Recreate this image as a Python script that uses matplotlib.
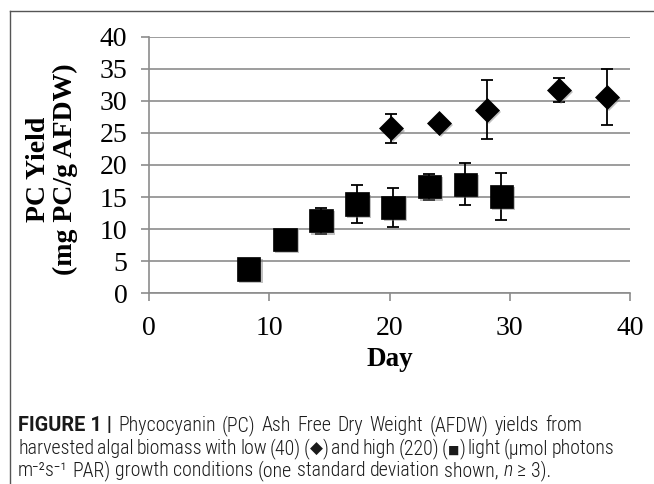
import re
import matplotlib
matplotlib.use('Agg')
import matplotlib.pyplot as plt
import matplotlib.patheffects as pe
from matplotlib.lines import Line2D
from matplotlib import font_manager

# ---- data ----
high_day = [8.3, 11.3, 14.3, 17.3, 20.3, 23.3, 26.3, 29.3]
high_yield = [3.8, 8.4, 11.3, 13.9, 13.4, 16.6, 17.0, 15.1]
high_sd = [0.0, 0.0, 2.0, 3.0, 3.0, 2.0, 3.3, 3.7]
low_day = [20.1, 24.1, 28.1, 34.1, 38.1]
low_yield = [25.7, 26.5, 28.6, 31.7, 30.6]
low_sd = [2.25, 0.0, 4.6, 1.9, 4.3]
x_ticks = [0, 10, 20, 30, 40]
y_ticks = [0, 5, 10, 15, 20, 25, 30, 35, 40]

W, H = 654, 484
SERIF = ['Liberation Serif', 'DejaVu Serif']
_names = {f.name for f in font_manager.fontManager.ttflist}
_cap_main = next((n for n in ['Roboto Condensed', 'Liberation Sans Narrow', 'Arial Narrow', 'Roboto']
                  if n in _names), 'DejaVu Sans')
CAP = [_cap_main, 'DejaVu Sans']
BOLD = ['Roboto', 'DejaVu Sans']
SYM = ['DejaVu Sans']
GRID = '#8c8c8c'

fig = plt.figure(figsize=(W / 100, H / 100), dpi=100)
ax = fig.add_axes([149 / W, 1 - 293.3 / H, (630 - 149) / W, (293.3 - 36.7) / H])

ax.set_xlim(0, 40)
ax.set_ylim(0, 40)
ax.set_xticks(x_ticks)
ax.set_yticks(y_ticks)
ax.set_axisbelow(True)
ax.yaxis.grid(True, color=GRID, lw=1.2)
for s in ['top', 'right']:
    ax.spines[s].set_visible(False)
for s in ['left', 'bottom']:
    ax.spines[s].set_color(GRID)
    ax.spines[s].set_linewidth(1.2)
ax.tick_params(axis='both', direction='out', length=5.5, width=1.2, color=GRID,
               labelsize=20, labelcolor='black')
ax.tick_params(axis='y', pad=10)
ax.tick_params(axis='x', pad=11)
for lab in ax.get_xticklabels() + ax.get_yticklabels():
    lab.set_family(SERIF)

shadow = [pe.SimplePatchShadow(offset=(1.5, -1.5), shadow_rgbFace='#777777', alpha=0.45), pe.Normal()]

ax.errorbar(high_day, high_yield, yerr=high_sd, fmt='none', ecolor='black',
            elinewidth=1.3, capsize=4, capthick=1.3, zorder=3)
ax.errorbar(low_day, low_yield, yerr=low_sd, fmt='none', ecolor='black',
            elinewidth=1.3, capsize=4, capthick=1.3, zorder=3)
ax.plot(high_day, high_yield, ls='none', marker='s', ms=16.8, mfc='black', mec='black',
        mew=0.5, zorder=4, path_effects=shadow)
ax.plot(low_day, low_yield, ls='none', marker='D', ms=12.2, mfc='black', mec='black',
        mew=0.5, zorder=4, path_effects=shadow)

# axis labels
fig.text(52 / W, 1 - 169 / H, 'PC Yield\n(mg PC/g AFDW)', rotation=90, ha='center',
         va='center', multialignment='center', fontsize=20, fontweight='bold',
         family=SERIF, linespacing=1.12)
fig.text(390 / W, 1 - 366 / H, 'Day', ha='center', va='baseline', fontsize=19.5,
         fontweight='bold', family=SERIF)

# frame
fig.add_artist(Line2D([9.5 / W, 9.5 / W], [0, 1 - 10.5 / H], transform=fig.transFigure,
                      color='#555555', lw=1.0))
fig.add_artist(Line2D([9.5 / W, 1], [1 - 10.5 / H, 1 - 10.5 / H], transform=fig.transFigure,
                      color='#555555', lw=1.0))

# caption
renderer = fig.canvas.get_renderer()


def _split(kw):
    k = dict(kw)
    fam = k.pop('family', CAP)
    scale = k.pop('scale', 1.0)
    k.pop('keep', None)
    return fam, scale, k


def piece_width(s, fs, kw):
    fam, scale, k = _split(kw)
    t1 = fig.text(0, 0, '|' + s + '|', fontsize=fs * scale, family=fam, **k)
    t2 = fig.text(0, 0, '||', fontsize=fs * scale, family=fam, **k)
    w = t1.get_window_extent(renderer).width - t2.get_window_extent(renderer).width
    t1.remove()
    t2.remove()
    return w


def draw_line(runs, x0, yb, fs, right=None):
    tokens = []
    for s, kw in runs:
        parts = [s] if kw.get('keep') else [p for p in re.split(r'( )', s) if p]
        for tok in parts:
            tokens.append((tok, kw, piece_width(tok, fs, kw)))
    natural = sum(w for _, _, w in tokens)
    nsp = sum(1 for t, _, _ in tokens if t == ' ')
    delta = (right - x0 - natural) / nsp if (right is not None and nsp) else 0.0
    x = x0
    for tok, kw, w in tokens:
        if tok == ' ':
            x += w + delta
            continue
        fam, scale, k = _split(kw)
        fig.text(x / W, 1 - yb / H, tok, fontsize=fs * scale, family=fam, va='baseline',
                 ha='left', color='#1a1a1a', **k)
        x += w


REG = dict(fontweight='light')
line1 = [('FIGURE 1 |', dict(fontweight='bold', family=BOLD, keep=True)),
         (' Phycocyanin (PC) Ash Free Dry Weight (AFDW) yields from', REG)]
line2 = [('harvested algal biomass with low (40) (', REG),
         ('\u25c6', dict(family=SYM, scale=0.85)),
         (') and high (220) (', REG),
         ('\u25a0', dict(family=SYM, scale=0.6)),
         (') light (\u00b5mol photons', REG)]
line3 = [('m\u207b\u00b2s\u207b\u00b9 PAR) growth conditions (one standard deviation shown, ', REG),
         ('n', dict(style='italic', fontweight='light')),
         (' \u2265 3).', REG)]

w10 = sum(piece_width(s, 10, kw) for s, kw in line2)
cap_fs = 10 * 620 / w10

x0 = 18
draw_line(line1, x0, 431, cap_fs, right=582)
draw_line(line2, x0, 454, cap_fs, right=614)
draw_line(line3, x0, 476.5, cap_fs)

fig.savefig('out.png', dpi=100)
